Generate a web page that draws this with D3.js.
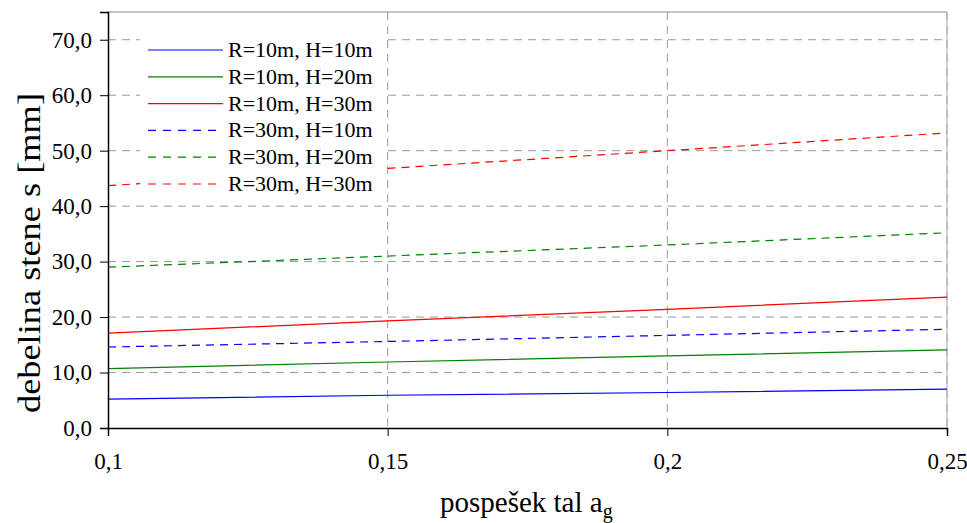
<!DOCTYPE html>
<html><head><meta charset="utf-8">
<script src="https://cdn.jsdelivr.net/npm/d3@7"></script>
<style>body{margin:0;background:#fff}svg{display:block}text{font-family:"Liberation Serif","Times New Roman",serif;fill:#000}</style>
</head><body><svg id="c" width="967" height="523"></svg>
<script>
const xValues = [0.1, 0.15, 0.2, 0.25];
const seriesNames = ["R=10m, H=10m","R=10m, H=20m","R=10m, H=30m","R=30m, H=10m","R=30m, H=20m","R=30m, H=30m"];
const s1 = [5.2, 5.9, 6.4, 7.0];
const s2 = [10.7, 11.9, 13.0, 14.1];
const s3 = [17.1, 19.3, 21.4, 23.6];
const s4 = [14.6, 15.6, 16.7, 17.8];
const s5 = [29.0, 31.0, 33.0, 35.2];
const s6 = [43.7, 46.8, 50.0, 53.2];
const yTicks = [0,10,20,30,40,50,60,70];
const xTicks = [0.1,0.15,0.2,0.25];
const colors = ["#0000ff","#008000","#ff0000","#0000ff","#008000","#ff0000"];
const dashed = [false,false,false,true,true,true];
const allSeries = [s1,s2,s3,s4,s5,s6];

const svg = d3.select("#c");
const L=108,R=947,T=12,B=428;
const x = d3.scaleLinear().domain([0.1,0.25]).range([L,R]);
const y = d3.scaleLinear().domain([0,75]).range([B,T]);
const fmt = d => d.toFixed(1).replace(".",",");
const fmtX = d => String(d).replace(".",",");
const FONT = '"Liberation Serif","Times New Roman",serif';

// grid
svg.append("g").selectAll("line").data(yTicks.filter(d=>d>0)).join("line")
  .attr("x1",L).attr("x2",R).attr("y1",d=>y(d)).attr("y2",d=>y(d))
  .attr("stroke","#999").attr("stroke-width",1).attr("stroke-dasharray","8,6");
svg.append("g").selectAll("line").data(xTicks.slice(1)).join("line")
  .attr("x1",d=>x(d)).attr("x2",d=>x(d)).attr("y1",T).attr("y2",B)
  .attr("stroke","#999").attr("stroke-width",1).attr("stroke-dasharray","8,6");
// frame top/right
svg.append("line").attr("x1",L).attr("x2",R).attr("y1",T).attr("y2",T).attr("stroke","#888");
svg.append("line").attr("x1",R).attr("x2",R).attr("y1",T).attr("y2",B).attr("stroke","#aaa");

// lines
const line = d3.line().x((d,i)=>x(xValues[i])).y(d=>y(d));
allSeries.forEach((s,i)=>{
  svg.append("path").datum(s).attr("d",line).attr("fill","none")
    .attr("stroke",colors[i]).attr("stroke-width",1.2)
    .attr("stroke-dasharray",dashed[i]?"8,6":null);
});

// axes
const yAxis = d3.axisLeft(y).tickValues(yTicks).tickFormat(fmt).tickSize(8).tickPadding(8);
const gy = svg.append("g").attr("transform",`translate(${L},0)`).call(yAxis);
const xAxis = d3.axisBottom(x).tickValues(xTicks).tickFormat(fmtX).tickSize(8).tickPadding(17);
const gx = svg.append("g").attr("transform",`translate(0,${B})`).call(xAxis);
[gy,gx].forEach(g=>{
  g.attr("font-family",FONT).attr("font-size",23);
  g.select(".domain").attr("stroke","#000").attr("stroke-width",1.5);
  g.selectAll(".tick line").attr("stroke","#000");
  g.selectAll("text").style("font-family",FONT).style("font-size","23px").attr("fill","#000");
});

// legend
const lg = svg.append("g");
lg.append("rect").attr("x",140).attr("y",36).attr("width",246).attr("height",162).attr("fill","#fff");
seriesNames.forEach((n,i)=>{
  const yy = 50 + i*26.8;
  lg.append("line").attr("x1",148).attr("x2",dashed[i]?218:223).attr("y1",yy).attr("y2",yy)
    .attr("stroke",colors[i]).attr("stroke-width",1.2).attr("stroke-dasharray",dashed[i]?"8,7":null);
  lg.append("text").attr("x",228).attr("y",yy+7).style("font-size","22px").text(n);
});

// axis labels
svg.append("text").attr("transform","translate(40,253) rotate(-90)").attr("text-anchor","middle")
  .style("font-size","32px").attr("textLength",320).attr("lengthAdjust","spacingAndGlyphs")
  .text("debelina stene s [mm]");
const xl = svg.append("text").attr("x",440).attr("y",512).style("font-size","29px");
xl.append("tspan").text("pospešek tal a");
xl.append("tspan").attr("dy",6).style("font-size","20px").text("g");
</script></body></html>
